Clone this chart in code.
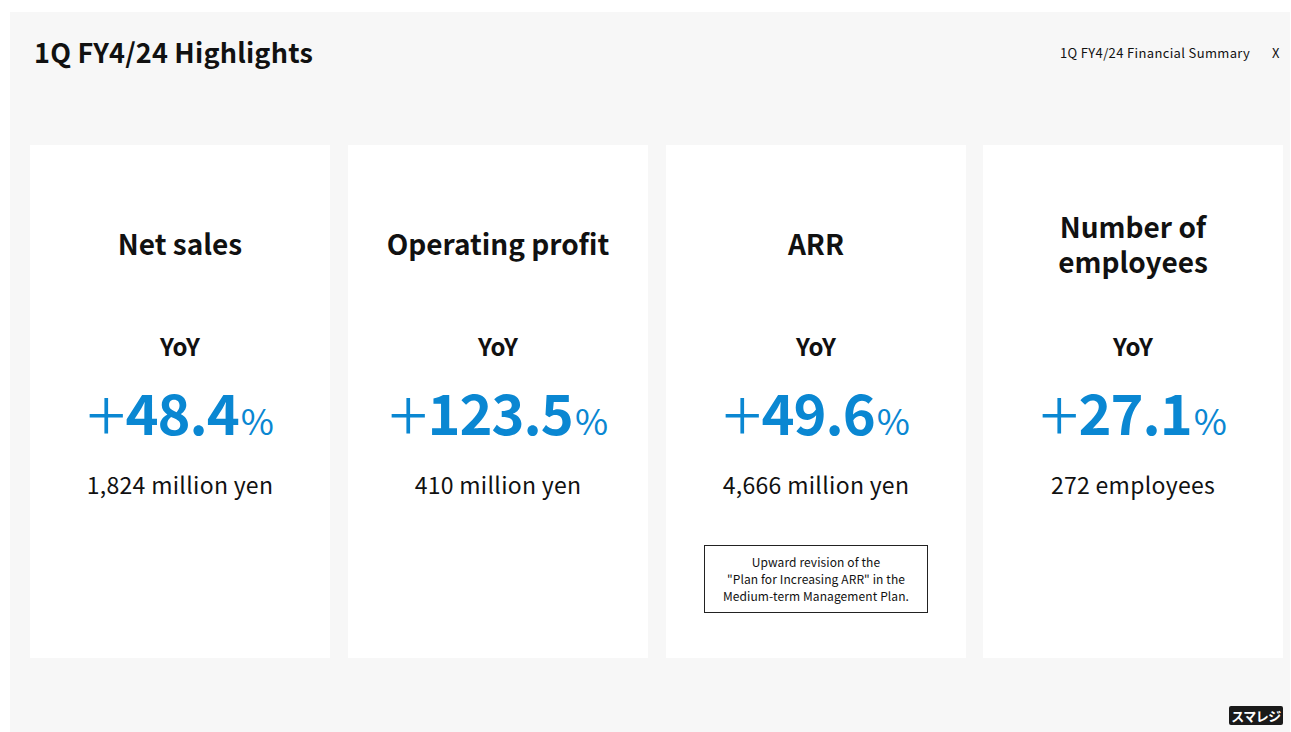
<!DOCTYPE html>
<html>
<head>
<meta charset="utf-8">
<script src="https://cdn.jsdelivr.net/npm/chart.js@4/dist/chart.umd.min.js"></script>
<style>
  html,body{margin:0;padding:0;background:#ffffff;width:1291px;height:732px;overflow:hidden;
    font-family:"Noto Sans CJK JP","Noto Sans",sans-serif;color:#111;}
  #panel{position:absolute;left:10px;top:12px;width:1280px;height:720px;background:#f7f7f7;}
  #title{position:absolute;left:34px;top:33px;font-size:27px;font-weight:700;letter-spacing:0.2px;line-height:38px;}
  #sub{position:absolute;left:1060px;top:44px;font-size:13px;line-height:18px;letter-spacing:0.35px;}
  #close{position:absolute;left:1272px;top:44px;font-size:13px;line-height:18px;}
  .card{position:absolute;top:145px;width:300px;height:513px;background:#fff;text-align:center;}
  .card .name{position:absolute;left:0;width:100%;font-size:28px;font-weight:700;line-height:34px;height:34px;}
  .card .yoy{position:absolute;left:0;width:100%;top:183px;font-size:24px;font-weight:700;line-height:36px;}
  .card .pct{position:absolute;left:0;width:100%;top:225px;font-size:56px;font-weight:700;line-height:68px;color:#0a87d2;letter-spacing:-1px;white-space:nowrap;}
  .card .pct .plus{font-weight:200;font-size:72px;line-height:68px;margin-right:1px;position:relative;top:7px;}
  .card .pct .ps{font-size:36px;font-weight:400;margin-left:2px;}
  .card .val{position:absolute;left:0;width:100%;top:322px;font-size:23px;line-height:34px;letter-spacing:0.3px;}
  #note{position:absolute;left:704px;top:545px;width:224px;height:68px;border:1px solid #222;background:#fff;
    font-size:12px;line-height:17px;text-align:center;box-sizing:border-box;padding-top:7px;letter-spacing:0.1px;}
  #logo{position:absolute;left:1229px;top:706px;width:54px;height:19px;background:#1a1a1a;color:#fff;border-radius:2px;
    font-size:13px;font-weight:700;line-height:19px;text-align:center;letter-spacing:-0.5px;}
</style>
</head>
<body>
<div id="panel"></div>
<div id="title">1Q FY4/24 Highlights</div>
<div id="sub">1Q FY4/24 Financial Summary</div>
<div id="close">X</div>
<div id="cards"></div>
<div id="note">Upward revision of the<br>"Plan for Increasing ARR" in the<br>Medium-term Management Plan.</div>
<div id="logo">スマレジ</div>
<script>
const metrics = ["Net sales", "Operating profit", "ARR", "Number of employees"];
const metricLines = [["Net sales"], ["Operating profit"], ["ARR"], ["Number of", "employees"]];
const yoyGrowth = [48.4, 123.5, 49.6, 27.1];
const values = ["1,824", "410", "4,666", "272"];
const units = ["million yen", "million yen", "million yen", "employees"];
const cardLeft = [30, 348, 666, 983];

const host = document.getElementById("cards");
metrics.forEach((m, i) => {
  const c = document.createElement("div");
  c.className = "card";
  c.style.left = cardLeft[i] + "px";
  const lines = metricLines[i];
  const firstTop = lines.length === 1 ? 81 : 64;
  let html = "";
  lines.forEach((ln, k) => {
    html += '<div class="name" style="top:' + (firstTop + k * 35) + 'px">' + ln + '</div>';
  });
  html +=
    '<div class="yoy">YoY</div>' +
    '<div class="pct"><span class="plus">+</span>' + yoyGrowth[i].toFixed(1) + '<span class="ps">%</span></div>' +
    '<div class="val">' + values[i] + ' ' + units[i] + '</div>';
  c.innerHTML = html;
  host.appendChild(c);
});
</script>
</body>
</html>
